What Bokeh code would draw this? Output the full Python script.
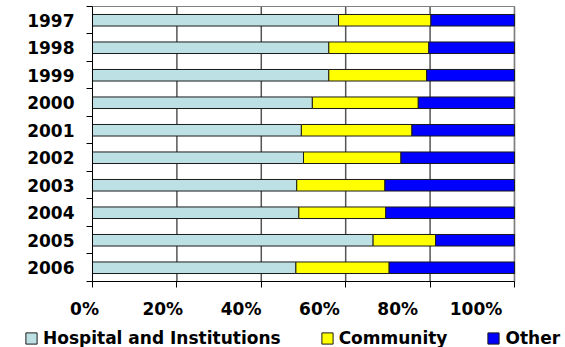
from bokeh.plotting import figure
from bokeh.models import (ColumnDataSource, Range1d, LinearAxis, LinearScale,
                          FixedTicker, PrintfTickFormatter, Legend, LegendItem)
from bokeh.embed import file_html
from bokeh.resources import INLINE

# Share of spending by sector, per year (percent of total)
years = ["1997", "1998", "1999", "2000", "2001", "2002", "2003", "2004", "2005", "2006"]
hospital = [58.3, 56.0, 56.0, 52.1, 49.5, 50.0, 48.4, 48.9, 66.5, 48.2]
community = [21.9, 23.7, 23.2, 25.1, 26.2, 23.1, 20.9, 20.6, 14.8, 22.1]
other = [19.8, 20.3, 20.8, 22.8, 24.3, 26.9, 30.7, 30.5, 18.7, 29.7]

series = ["Hospital and Institutions", "Community", "Other"]
colors = ["#BDE0E4", "#FFFF00", "#0000FF"]
pct_ticks = [0, 20, 40, 60, 80, 100]

# one row slot per year, first year at the top
slots = list(range(len(years)))
row_edges = [s - 0.5 for s in slots] + [slots[-1] + 0.5]

source = ColumnDataSource(data={
    "slot": slots,
    series[0]: hospital,
    series[1]: community,
    series[2]: other,
})

FONT = "DejaVu Sans"
BAR_LINE = "#1a1a1a"

# the frame fills the whole canvas; axes sit at fixed data positions
p = figure(width=565, height=347,
           x_range=Range1d(-21.80, 112.09),
           y_range=Range1d(11.9, -0.718),
           x_axis_location=None, y_axis_location=None,
           output_backend="svg", toolbar_location=None)
p.min_border = 0
p.background_fill_color = "white"
p.border_fill_color = "white"
p.outline_line_color = None
p.grid.visible = False


def ticks_only(axis):
    axis.axis_line_color = "black"
    axis.axis_line_width = 1
    axis.major_tick_line_color = "black"
    axis.major_tick_in = 0
    axis.major_tick_out = 6
    axis.minor_tick_line_color = None
    axis.major_label_text_font_size = "1px"
    axis.major_label_text_color = None
    axis.major_label_standoff = 0


# vertical gridlines across the rows
grid_x = pct_ticks[1:]
p.segment(x0=grid_x, y0=[row_edges[0]] * len(grid_x),
          x1=grid_x, y1=[row_edges[-1]] * len(grid_x),
          line_color="#555555", line_width=1.5)

# plot-area border
p.quad(left=pct_ticks[0], right=pct_ticks[-1], top=row_edges[0], bottom=row_edges[-1],
       fill_color=None, line_color="#808080", line_width=1)

renderers = p.hbar_stack(series, y="slot", height=0.42, color=colors,
                         line_color=BAR_LINE, line_width=1, source=source)

# bottom axis: line and outward ticks
xa = LinearAxis(ticker=FixedTicker(ticks=pct_ticks),
                major_label_overrides={t: "" for t in pct_ticks},
                fixed_location=row_edges[-1],
                bounds=(pct_ticks[0], pct_ticks[-1]))
ticks_only(xa)
p.add_layout(xa, "below")

# percentage labels on their own scale
p.extra_x_ranges = {"pct_labels": Range1d(-21.456, 122.86)}
p.extra_x_scales = {"pct_labels": LinearScale()}
x_lbl = LinearAxis(x_range_name="pct_labels",
                   ticker=FixedTicker(ticks=pct_ticks),
                   formatter=PrintfTickFormatter(format="%d%%"),
                   fixed_location=row_edges[-1],
                   axis_line_color=None, major_tick_line_color=None,
                   minor_tick_line_color=None,
                   major_tick_in=0, major_tick_out=0,
                   major_label_standoff=18,
                   major_label_text_font=FONT,
                   major_label_text_font_style="bold",
                   major_label_text_font_size="17px",
                   major_label_text_color="black")
p.add_layout(x_lbl, "below")

# left axis at 0 %: ticks between the year rows
y_ticks = LinearAxis(ticker=FixedTicker(ticks=row_edges),
                     fixed_location=pct_ticks[0],
                     bounds=(row_edges[0], row_edges[-1]))
ticks_only(y_ticks)
p.add_layout(y_ticks, "left")

# year labels at row centres
y_lbl = LinearAxis(ticker=FixedTicker(ticks=slots), fixed_location=pct_ticks[0],
                   major_label_overrides={s: y for s, y in zip(slots, years)},
                   axis_line_color=None, major_tick_line_color=None,
                   minor_tick_line_color=None,
                   major_tick_in=0, major_tick_out=0,
                   major_label_standoff=18,
                   major_label_text_font=FONT,
                   major_label_text_font_style="bold",
                   major_label_text_font_size="17px",
                   major_label_text_color="black")
p.add_layout(y_lbl, "left")

legend = Legend(items=[LegendItem(label=s, renderers=[r]) for s, r in zip(series, renderers)],
                orientation="horizontal", location=(24, -1),
                spacing=39, padding=0, margin=0,
                glyph_width=14, glyph_height=14, label_standoff=5,
                label_text_font=FONT, label_text_font_style="bold",
                label_text_font_size="17px", label_text_color="black",
                border_line_color=None, background_fill_alpha=0)
p.add_layout(legend)

open("out.html", "w").write(file_html(p, INLINE))
